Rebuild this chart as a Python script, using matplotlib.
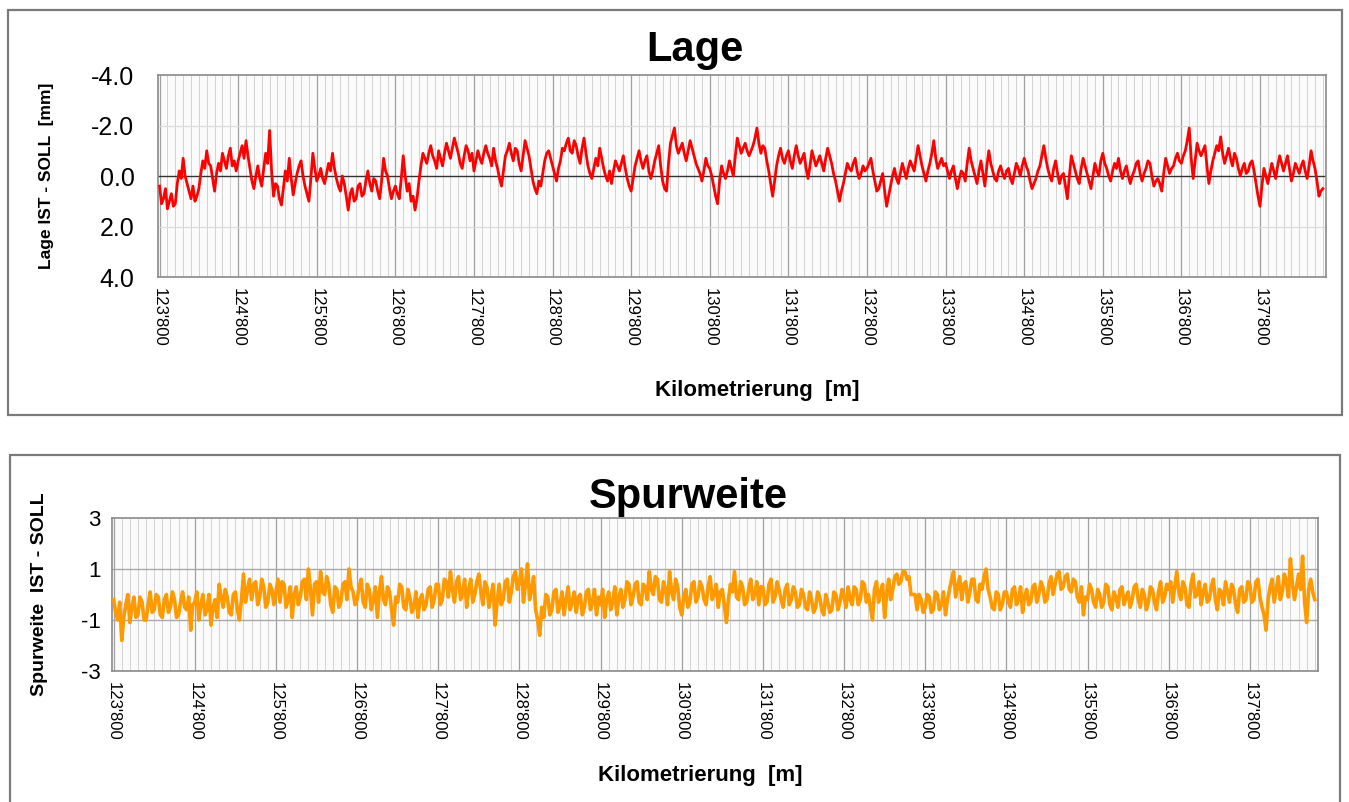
import numpy as np
import matplotlib
matplotlib.use("Agg")
import matplotlib.pyplot as plt
from matplotlib.patches import Rectangle
from matplotlib.ticker import MultipleLocator, FuncFormatter

plt.rcParams['font.family'] = ['Liberation Sans', 'DejaVu Sans']

# ====================== DATA ======================
# chainage sampled every 25 m, starting at 123'800
START_M = 123800
STEP_M = 25

# Lage IST - SOLL [mm], one row per km (positive = below the zero line)
lage_mm = [
    0.4, 1.1, 0.9, 0.5, 1.3, 1.0, 0.7, 1.2, 1.1, 0.3, -0.2, 0.1, -0.7, 0.0, 0.3, 0.6, 0.9, 0.4, 1.0, 0.8,
    0.5, -0.1, -0.6, -0.3, -1.0, -0.5, -0.4, 0.1, 0.6, -0.1, -0.5, -0.2, -0.9, -0.6, -0.3, -0.8, -1.1, -0.4, -0.6, -0.2,
    -0.6, -0.9, -1.2, -0.7, -1.4, -0.8, -0.3, 0.2, 0.5, 0.0, -0.4, 0.1, 0.4, -0.3, -0.9, -0.5, -1.8, -0.2, 0.8, 0.3,
    0.4, 0.9, 1.15, 0.5, -0.2, 0.2, -0.7, 0.1, 0.75, 0.3, -0.1, -0.4, -0.6, 0.0, 0.4, 0.7, 1.0, 0.1, -0.9, -0.3,
    0.2, 0.0, -0.3, 0.1, 0.3, -0.1, -0.5, -0.2, -0.9, -0.3, 0.1, 0.4, 0.6, 0.0, 0.3, 0.8, 1.35, 0.7, 0.5, 1.0,
    0.9, 0.4, 0.3, 0.8, 0.7, 0.2, -0.2, 0.3, 0.6, 0.1, 0.2, 0.6, 0.9, 0.2, -0.7, -0.2, 0.0, 0.5, 0.9, 0.6,
    0.4, 0.7, 0.9, 0.1, -0.8, 0.0, 0.6, 0.3, 1.0, 0.8, 1.35, 0.9, 0.2, -0.4, -0.9, -0.7, -0.5, -0.9, -1.2, -0.8,
    -0.6, -0.3, -1.0, -0.7, -0.4, -0.9, -1.3, -1.0, -0.7, -1.1, -1.5, -1.2, -0.9, -0.5, -0.3, -0.8, -1.2, -1.0, -0.6, -0.9,
    -0.2, -0.6, -1.0, -0.7, -0.5, -0.9, -1.2, -0.9, -0.7, -0.4, -1.1, -0.6, -0.3, 0.1, 0.4, -0.2, -0.8, -1.0, -1.3, -0.9,
    -0.6, -1.1, -1.0, -0.5, -0.2, -0.8, -1.4, -1.1, -0.8, -0.3, 0.2, 0.5, 0.7, 0.2, 0.4, -0.1, -0.6, -0.9, -1.0, -0.7,
    -0.4, -0.1, 0.2, -0.3, -0.6, -1.1, -1.0, -1.3, -1.5, -1.0, -0.9, -1.4, -1.2, -0.8, -0.5, -1.1, -1.5, -0.9, -0.4, -0.1,
    0.1, -0.3, -0.7, -0.4, -1.1, -0.7, -0.3, 0.0, 0.2, -0.2, 0.3, -0.2, -0.6, -0.4, -0.2, -0.5, -0.8, -0.3, 0.1, 0.4,
    0.6, 0.1, -0.4, -0.7, -1.0, -0.6, -0.3, -0.6, -0.8, -0.2, 0.1, -0.2, -0.6, -0.9, -1.2, -0.4, 0.2, 0.5, 0.6, -0.5,
    -1.3, -1.6, -1.9, -1.2, -0.9, -1.1, -1.3, -0.9, -0.6, -1.0, -1.4, -1.1, -0.8, -0.5, -0.3, -0.1, 0.2, -0.2, -0.7, -0.4,
    -0.3, 0.0, 0.4, 0.8, 1.1, 0.2, -0.4, -0.1, 0.1, -0.2, -0.6, -0.3, 0.0, -0.8, -1.5, -1.2, -0.9, -1.1, -1.3, -1.0,
    -0.8, -1.0, -1.2, -1.5, -1.9, -1.3, -0.9, -1.2, -1.1, -0.6, -0.2, 0.3, 0.8, 0.2, -0.4, -0.8, -1.1, -0.7, -0.5, -0.8,
    -1.0, -0.6, -0.3, -0.8, -1.2, -0.8, -0.5, -0.7, -0.9, -0.3, 0.1, -0.4, -1.0, -0.7, -0.4, -0.6, -0.8, -0.5, -0.2, -0.7,
    -1.1, -0.8, -0.5, -0.1, 0.2, 0.6, 1.0, 0.6, 0.3, -0.1, -0.5, -0.3, -0.2, -0.5, -0.7, -0.2, 0.1, -0.1, -0.4, -0.2,
    -0.3, -0.5, -0.7, -0.2, 0.2, 0.6, 0.5, 0.2, -0.1, 0.6, 1.2, 0.8, 0.4, 0.0, -0.3, 0.1, 0.3, -0.1, -0.5, -0.2,
    0.1, -0.3, -0.6, -0.4, -0.2, -0.7, -1.2, -0.8, -0.4, -0.1, 0.2, -0.2, -0.5, -0.9, -1.4, -0.7, -0.3, -0.5, -0.7, -0.4,
    -0.5, -0.2, 0.1, -0.2, -0.4, 0.1, 0.5, 0.1, -0.2, -0.1, 0.2, -0.5, -1.1, -0.6, -0.3, 0.0, 0.3, -0.2, -0.6, -0.1,
    0.4, -0.4, -1.0, -0.5, -0.2, 0.1, 0.2, -0.2, -0.4, -0.1, 0.1, -0.2, -0.3, 0.1, 0.3, -0.1, -0.5, -0.3, 0.0, -0.4,
    -0.7, -0.4, -0.2, 0.2, 0.5, 0.3, 0.1, -0.2, -0.4, -0.8, -1.2, -0.7, -0.3, 0.0, 0.2, -0.3, -0.6, -0.1, 0.3, 0.0,
    -0.1, 0.4, 0.9, 0.0, -0.8, -0.5, -0.2, 0.1, 0.3, -0.3, -0.7, -0.4, -0.1, 0.2, 0.5, 0.0, -0.5, -0.2, 0.0, -0.6,
    -0.9, -0.5, -0.3, 0.0, 0.2, -0.2, -0.5, -0.3, -0.7, -0.2, 0.1, -0.2, -0.4, 0.0, 0.3, 0.0, -0.2, -0.5, -0.6, -0.1,
    0.2, -0.1, -0.3, -0.6, -0.5, 0.0, 0.4, 0.2, 0.1, 0.3, 0.6, -0.1, -0.7, -0.4, -0.1, -0.3, -0.4, -0.7, -0.9, -0.6,
    -0.5, -0.8, -1.0, -1.4, -1.9, -0.7, 0.1, -0.6, -1.3, -1.0, -0.8, -1.0, -1.2, -0.4, 0.3, -0.2, -0.6, -0.9, -1.2, -1.0,
    -1.55, -0.9, -0.5, -0.8, -1.1, -0.7, -0.4, -0.9, -0.7, -0.3, 0.0, -0.3, -0.5, -0.1, -0.2, -0.5, -0.6, -0.2, 0.3, 0.8,
    1.2, 0.4, -0.3, 0.0, 0.3, -0.1, -0.5, -0.2, 0.1, -0.4, -0.8, -0.5, -0.2, -0.5, -0.8, -0.3, 0.2, -0.1, -0.5, -0.3,
    -0.1, -0.4, -0.6, -0.2, 0.1, -0.4, -1.0, -0.6, -0.3, 0.2, 0.8, 0.6, 0.5,
]

# Spurweite IST - SOLL, one row per km
spur = [
    -0.2, -0.7, -1.0, -0.3, -1.8, -0.9, -0.4, 0.0, -1.1, -0.5, -0.1, -0.9, -0.8, -0.1, -0.3, -1.0, -1.0, -0.4, 0.1, -0.7,
    -0.6, 0.0, -0.1, -0.8, -0.9, -0.2, 0.0, -0.7, -0.5, 0.1, -0.2, -0.9, -0.8, -0.3, 0.1, -0.5, -0.6, -0.1, -1.4, -0.4,
    -0.3, 0.1, -1.0, -0.4, 0.0, -0.8, -0.6, 0.0, -1.2, -0.5, -0.2, -0.9, 0.4, -0.1, -0.5, 0.2, -0.1, -0.7, -0.8, 0.0,
    0.1, -0.6, -1.0, -0.2, 0.8, -0.3, 0.2, 0.6, -0.2, 0.4, 0.5, -0.4, -0.1, 0.6, 0.3, -0.5, -0.3, 0.4, 0.2, -0.4,
    0.1, 0.6, -0.3, 0.5, 0.4, -0.5, -0.2, 0.3, -0.9, 0.0, 0.3, -0.4, -0.1, 0.5, 0.6, -0.2, 1.0, 0.2, -0.8, 0.4,
    0.5, -0.3, 0.9, 0.1, 0.0, 0.7, 0.4, -0.4, -0.7, 0.3, 0.2, -0.5, -0.3, 0.4, 0.5, -0.2, 1.0, 0.3, 0.1, -0.4,
    -0.2, 0.3, 0.6, -0.3, -0.5, 0.4, 0.2, -0.6, -0.2, 0.3, -0.9, 0.1, 0.7, -0.2, -0.4, 0.3, 0.1, -0.6, -1.2, -0.1,
    -0.3, 0.4, 0.3, -0.5, -0.6, 0.2, -0.1, -0.7, -0.5, 0.1, -0.9, -0.2, 0.0, -0.6, -0.4, 0.2, 0.3, -0.5, -0.2, 0.4,
    0.4, -0.4, -0.2, 0.6, 0.5, -0.1, 0.9, 0.2, -0.3, 0.5, 0.7, -0.2, 0.1, 0.6, -0.5, 0.2, 0.6, -0.3, 0.0, 0.5,
    0.8, 0.1, -0.4, 0.5, 0.3, -0.5, -0.1, 0.4, -1.2, -0.3, 0.4, -0.4, -0.2, 0.5, 0.6, -0.3, 0.1, 0.7, 0.9, 0.2,
    0.5, 1.0, -0.3, 0.4, 1.2, -0.2, 0.2, 0.7, -0.6, -1.0, -1.6, -0.5, -0.9, 0.0, -0.1, -0.8, -0.6, 0.1, 0.2, -0.7,
    -0.4, 0.1, -0.8, -0.2, 0.3, -0.6, -0.3, 0.1, -0.7, -0.1, 0.0, -0.8, -0.5, 0.1, 0.2, -0.6, -0.3, 0.2, -0.8, -0.1,
    -0.4, 0.2, -0.9, -0.2, 0.1, -0.6, -0.3, 0.3, -0.8, -0.1, 0.2, -0.5, -0.2, 0.5, 0.4, -0.4, -0.1, 0.4, 0.5, -0.3,
    -0.4, 0.4, 0.3, -0.2, 0.9, 0.2, 0.0, 0.7, 0.6, -0.2, -0.3, 0.5, 0.2, -0.4, 0.9, 0.1, -0.2, 0.6, 0.3, -0.5,
    -0.8, -0.1, 0.2, -0.5, -0.3, 0.4, 0.5, -0.3, -0.1, 0.5, 0.3, -0.2, -0.4, 0.3, 0.7, -0.2, 0.0, 0.4, -0.5, 0.1,
    0.2, -0.4, -1.1, -0.2, 0.4, 0.1, 0.9, -0.1, -0.2, 0.5, 0.3, -0.4, -0.3, 0.2, 0.6, -0.2, 0.0, 0.5, -0.4, 0.3,
    0.3, -0.4, -0.3, 0.4, 0.6, -0.3, -0.1, 0.5, 0.2, -0.2, -0.5, 0.2, 0.4, -0.4, -0.2, 0.3, 0.1, -0.5, -0.4, 0.2,
    0.0, -0.5, -0.6, 0.1, -0.2, -0.7, -0.5, 0.1, -0.1, -0.6, -0.8, 0.0, -0.3, -0.7, -0.6, 0.1, 0.0, -0.6, -0.3, 0.2,
    -0.1, -0.5, 0.3, -0.2, -0.4, 0.3, 0.2, -0.4, -0.2, 0.5, 0.4, -0.3, 0.0, -0.5, -1.0, 0.2, 0.5, -0.3, 0.1, 0.4,
    -0.9, 0.0, 0.6, -0.2, 0.2, 0.7, 0.8, 0.4, 0.5, 0.9, 0.9, 0.6, 0.7, 0.0, 0.0, 0.0, -0.6, 0.0, -0.2, -0.7,
    -0.5, 0.0, -0.1, -0.7, -0.6, 0.1, 0.0, -0.6, -0.4, 0.1, -0.8, -0.2, 0.2, 0.6, 0.9, -0.1, 0.3, 0.7, -0.2, 0.4,
    0.5, -0.3, 0.1, 0.6, 0.6, -0.2, -0.3, 0.4, 0.2, 0.7, 1.0, 0.2, -0.1, -0.5, -0.6, 0.1, 0.0, -0.6, -0.4, 0.1,
    0.1, -0.3, -0.5, 0.2, 0.3, -0.4, -0.2, 0.3, -0.7, -0.1, 0.2, -0.4, -0.3, 0.3, 0.4, -0.3, 0.0, 0.5, 0.3, -0.3,
    -0.2, 0.4, 0.7, 0.0, 0.4, 0.8, 0.9, 0.2, 0.3, 0.7, 0.8, 0.2, 0.1, 0.6, 0.5, -0.1, -0.3, 0.3, -0.8, -0.1,
    -0.2, 0.4, 0.2, -0.3, -0.5, 0.2, 0.0, -0.5, -0.3, 0.4, 0.3, -0.4, -0.6, 0.1, -0.1, -0.5, 0.2, 0.3, -0.4, -0.1,
    0.1, -0.5, -0.2, 0.3, 0.4, -0.2, -0.5, 0.2, 0.0, -0.6, -0.3, 0.3, 0.2, -0.3, -0.6, 0.1, 0.5, -0.3, -0.1, 0.4,
    0.2, 0.5, -0.3, 0.3, 0.9, 0.1, -0.2, 0.5, 0.3, -0.4, -0.5, 0.4, 0.8, -0.1, 0.0, 0.5, -0.4, 0.1, 0.4, -0.3,
    -0.2, 0.3, 0.6, -0.2, -0.6, 0.2, 0.1, -0.4, 0.5, 0.1, -0.3, 0.4, 0.2, -0.4, -0.7, 0.2, 0.3, -0.3, -0.2, 0.5,
    0.4, -0.3, -0.2, 0.5, 0.6, -0.1, -0.5, -0.8, -1.4, -0.2, 0.3, 0.6, -0.3, 0.2, 0.7, -0.2, 0.1, 0.8, 0.5, -0.1,
    1.4, 0.4, -0.2, 0.3, 0.8, 0.2, 1.5, -0.3, -1.1, 0.2, 0.6, 0.1, -0.2,
]

lage_yticks = [-4.0, -2.0, 0.0, 2.0, 4.0]
spur_yticks = [3, 1, -1, -3]
km_ticks = [123800 + 1000 * k for k in range(15)]

x_lage = START_M + STEP_M * np.arange(len(lage_mm))
x_spur = START_M + STEP_M * np.arange(len(spur))
XLIM = (123780, 138640)


def km_fmt(v, pos):
    v = int(round(v))
    return f"{v // 1000}'{v % 1000:03d}"


W, H = 1349, 802
fig = plt.figure(figsize=(W / 100, H / 100), dpi=100)
fig.patch.set_facecolor("white")

# outer frames
for (x0, y0, x1, y1) in [(8, 10, 1342, 415), (10, 455, 1340, 806)]:
    fig.patches.append(Rectangle((x0 / W, 1 - y1 / H), (x1 - x0) / W, (y1 - y0) / H,
                                 transform=fig.transFigure, fill=False,
                                 edgecolor="#7a7a7a", lw=1.6, zorder=0))


def style_axis(ax):
    ax.set_xlim(XLIM)
    ax.set_facecolor("#fbfbfb")
    ax.set_xticks(km_ticks)
    ax.xaxis.set_major_formatter(FuncFormatter(km_fmt))
    ax.xaxis.set_minor_locator(MultipleLocator(100))
    ax.grid(True, which="major", axis="x", color="#a0a0a0", lw=0.9)
    ax.grid(True, which="minor", axis="x", color="#d2d2d2", lw=0.7)
    for s in ax.spines.values():
        s.set_color("#8a8a8a")
        s.set_linewidth(1.2)
    ax.tick_params(axis="x", which="both", length=0, pad=8, labelsize=12, rotation=-90)
    ax.tick_params(axis="y", length=0)
    ax.set_axisbelow(True)


# ====================== LAGE ======================
ax1 = fig.add_axes([158 / W, 1 - 277 / H, (1326 - 158) / W, (277 - 75) / H])
style_axis(ax1)
ax1.set_ylim(4.0, -4.0)
ax1.set_yticks(lage_yticks)
ax1.set_yticklabels([f"{v:.1f}" for v in lage_yticks], fontsize=18)
ax1.tick_params(axis="y", pad=17)
for v in (-2.0, 2.0):
    ax1.axhline(v, color="#dcdcdc", lw=0.9, zorder=1)
ax1.axhline(0.0, color="#333333", lw=1.0, zorder=1)
ax1.plot(x_lage, lage_mm, color="#ff0000", lw=2.0, zorder=3)
ax1.set_ylabel("Lage IST - SOLL  [mm]", fontsize=12.5, fontweight="bold")
ax1.yaxis.set_label_coords((54 - 158) / (1326 - 158), 0.5)
ax1.set_xlabel("Kilometrierung  [m]", fontsize=16, fontweight="bold")
ax1.xaxis.set_label_coords((757 - 158) / (1326 - 158), (277 - 380) / 202)
fig.text(695 / W, 1 - 50 / H, "Lage", fontsize=30, fontweight="bold", ha="center", va="center")

# ====================== SPURWEITE ======================
ax2 = fig.add_axes([112 / W, 1 - 671 / H, (1318 - 112) / W, (671 - 518) / H])
style_axis(ax2)
ax2.set_ylim(-3, 3)
ax2.set_yticks(spur_yticks)
ax2.set_yticklabels([str(v) for v in spur_yticks], fontsize=16)
ax2.tick_params(axis="y", pad=8)
for v in (1, -1):
    ax2.axhline(v, color="#a8a8a8", lw=1.0, zorder=1)
ax2.plot(x_spur, spur, color="#ff9900", lw=2.6, zorder=3)
ax2.set_ylabel("Spurweite  IST - SOLL", fontsize=14, fontweight="bold")
ax2.yaxis.set_label_coords((48 - 112) / (1318 - 112), 0.5)
ax2.set_xlabel("Kilometrierung  [m]", fontsize=16, fontweight="bold")
ax2.xaxis.set_label_coords((700 - 112) / (1318 - 112), (671 - 765) / 153)
fig.text(688 / W, 1 - 497 / H, "Spurweite", fontsize=30, fontweight="bold", ha="center", va="center")

fig.savefig("out.png", dpi=100)
